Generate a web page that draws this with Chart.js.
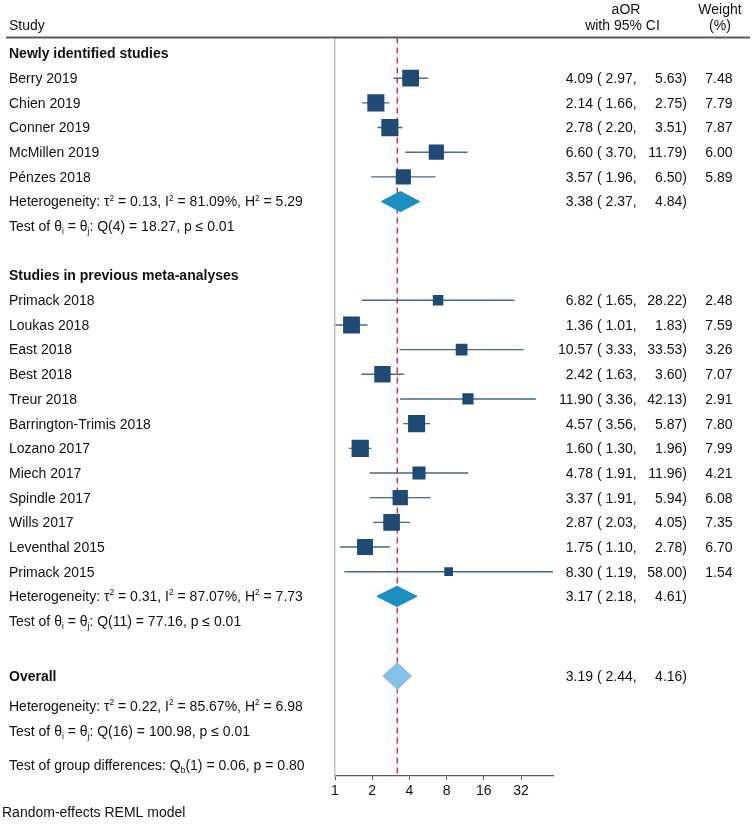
<!DOCTYPE html>
<html>
<head>
<meta charset="utf-8">
<title>Forest plot</title>
<script src="https://cdn.jsdelivr.net/npm/chart.js@4.4.0/dist/chart.umd.min.js"></script>
<style>
  body { margin: 0; background: #fff; }
  canvas { display: block; }
</style>
</head>
<body>
<canvas id="forestChart" width="752" height="824"></canvas>
<script>
// data
const groupNames = ["Newly identified studies", "Studies in previous meta-analyses"];
const studyNames = ["Berry 2019", "Chien 2019", "Conner 2019", "McMillen 2019", "Pénzes 2018",
    "Primack 2018", "Loukas 2018", "East 2018", "Best 2018", "Treur 2018", "Barrington-Trimis 2018",
    "Lozano 2017", "Miech 2017", "Spindle 2017", "Wills 2017", "Leventhal 2015", "Primack 2015"];
const studyGroup = [0, 0, 0, 0, 0, 1, 1, 1, 1, 1, 1, 1, 1, 1, 1, 1, 1];
const studyOR = [4.09, 2.14, 2.78, 6.60, 3.57, 6.82, 1.36, 10.57, 2.42, 11.90, 4.57, 1.60, 4.78, 3.37, 2.87, 1.75, 8.30];
const studyLow = [2.97, 1.66, 2.20, 3.70, 1.96, 1.65, 1.01, 3.33, 1.63, 3.36, 3.56, 1.30, 1.91, 1.91, 2.03, 1.10, 1.19];
const studyHigh = [5.63, 2.75, 3.51, 11.79, 6.50, 28.22, 1.83, 33.53, 3.60, 42.13, 5.87, 1.96, 11.96, 5.94, 4.05, 2.78, 58.00];
const studyWeight = [7.48, 7.79, 7.87, 6.00, 5.89, 2.48, 7.59, 3.26, 7.07, 2.91, 7.80, 7.99, 4.21, 6.08, 7.35, 6.70, 1.54];

const groupOR = [3.38, 3.17];
const groupLow = [2.37, 2.18];
const groupHigh = [4.84, 4.61];
const groupHet = ["Heterogeneity: τ^2 = 0.13, I^2 = 81.09%, H^2 = 5.29",
    "Heterogeneity: τ^2 = 0.31, I^2 = 87.07%, H^2 = 7.73"];
const groupTest = ["Test of θ_i = θ_j: Q(4) = 18.27, p ≤ 0.01",
    "Test of θ_i = θ_j: Q(11) = 77.16, p ≤ 0.01"];

const overallOR = 3.19;
const overallLow = 2.44;
const overallHigh = 4.16;
const overallHet = "Heterogeneity: τ^2 = 0.22, I^2 = 85.67%, H^2 = 6.98";
const overallTest = "Test of θ_i = θ_j: Q(16) = 100.98, p ≤ 0.01";
const groupDiffTest = "Test of group differences: Q_b(1) = 0.06, p = 0.80";
const modelNote = "Random-effects REML model";

const xTicks = [1, 2, 4, 8, 16, 32];
const xMin = 1;
const xMax = 58;

const FONT = '"Liberation Sans", Arial, sans-serif';
const FONT_SIZE = 14;
const yMin = -0.65;
const yMax = 29.28;

// work out which row every line of the table sits on
let textRows = [];
let studyRow = [];
let groupRow = [];
let row = 0;
groupNames.forEach((name, g) => {
    textRows.push({text: name, row: row, bold: true});
    studyNames.forEach((s, i) => {
        if (studyGroup[i] !== g) return;
        row++;
        studyRow[i] = row;
        textRows.push({text: s, row: row});
    });
    row++;
    groupRow[g] = row;
    textRows.push({text: groupHet[g], row: row});
    row++;
    textRows.push({text: groupTest[g], row: row});
    row += 2;
});
const overallRow = row + 0.23;
textRows.push({text: "Overall", row: overallRow, bold: true});
textRows.push({text: overallHet, row: overallRow + 1.22});
textRows.push({text: overallTest, row: overallRow + 2.25});
textRows.push({text: groupDiffTest, row: overallRow + 3.63});

function diamond(est, lo, hi, r, h){
    return [{x: lo, y: r}, {x: est, y: r - h}, {x: hi, y: r}, {x: est, y: r + h}, {x: lo, y: r}];
}

// text with ^x superscripts and _x subscripts
function drawRich(ctx, str, x, y, size, bold){
    const weight = bold ? "bold " : "";
    let i = 0;
    while (i < str.length){
        const ch = str[i];
        if ((ch === "^" || ch === "_") && i + 1 < str.length){
            const s = str[i + 1];
            ctx.font = weight + (size * 0.6) + "px " + FONT;
            const dy = ch === "^" ? -size * 0.3 : size * 0.3;
            ctx.fillText(s, x, y + dy);
            x += ctx.measureText(s).width;
            i += 2;
            continue;
        }
        let j = i;
        while (j < str.length && str[j] !== "^" && str[j] !== "_") j++;
        const run = str.slice(i, j);
        ctx.font = weight + size + "px " + FONT;
        ctx.fillText(run, x, y);
        x += ctx.measureText(run).width;
        i = j;
    }
}

function drawCI(ctx, est, lo, hi, py, weight){
    ctx.font = FONT_SIZE + "px " + FONT;
    ctx.textAlign = "right";
    ctx.fillText(est.toFixed(2), 593, py);
    ctx.textAlign = "left";
    ctx.fillText("( " + lo.toFixed(2) + ",", 597, py);
    ctx.textAlign = "right";
    ctx.fillText(hi.toFixed(2) + ")", 687, py);
    if (weight !== undefined)
        ctx.fillText(weight.toFixed(2), 732.5, py);
}

const textPlugin = {
    id: "forestText",
    afterDraw(chart){
        const ctx = chart.ctx;
        const yScale = chart.scales.y;
        ctx.save();
        ctx.fillStyle = "#111";
        ctx.textBaseline = "middle";

        // header
        ctx.font = FONT_SIZE + "px " + FONT;
        ctx.textAlign = "left";
        ctx.fillText("Study", 9, 26);
        ctx.textAlign = "center";
        ctx.fillText("aOR", 626, 10);
        ctx.fillText("with 95% CI", 622.5, 26);
        ctx.fillText("Weight", 720, 10);
        ctx.fillText("(%)", 720, 26);

        ctx.strokeStyle = "#5a5a5a";
        ctx.lineWidth = 2;
        ctx.beginPath();
        ctx.moveTo(6, chart.chartArea.top);
        ctx.lineTo(750, chart.chartArea.top);
        ctx.stroke();

        // left column
        ctx.textAlign = "left";
        textRows.forEach(t => {
            drawRich(ctx, t.text, 9, yScale.getPixelForValue(t.row) + 1, FONT_SIZE, t.bold);
        });

        // right columns
        studyNames.forEach((s, i) => {
            drawCI(ctx, studyOR[i], studyLow[i], studyHigh[i], yScale.getPixelForValue(studyRow[i]) + 1, studyWeight[i]);
        });
        groupNames.forEach((g, k) => {
            drawCI(ctx, groupOR[k], groupLow[k], groupHigh[k], yScale.getPixelForValue(groupRow[k]) + 1);
        });
        drawCI(ctx, overallOR, overallLow, overallHigh, yScale.getPixelForValue(overallRow) + 1);

        ctx.font = FONT_SIZE + "px " + FONT;
        ctx.textAlign = "left";
        ctx.fillText(modelNote, 2, 813);
        ctx.restore();
    }
};

let datasets = [];

// squares, size by weight
datasets.push({
    type: "scatter",
    data: studyOR.map((v, i) => ({x: v, y: studyRow[i]})),
    pointStyle: "rect",
    pointRadius: studyWeight.map(w => (2 + 5.4 * Math.sqrt(w)) / Math.SQRT2),
    backgroundColor: "#1f4a73",
    borderWidth: 0,
    order: 0
});

// confidence intervals
studyOR.forEach((v, i) => {
    datasets.push({
        type: "line",
        data: [{x: studyLow[i], y: studyRow[i]}, {x: studyHigh[i], y: studyRow[i]}],
        borderColor: "#45698f",
        borderWidth: 1.4,
        pointRadius: 0,
        fill: false,
        order: 2
    });
});

// subgroup and overall diamonds
groupOR.forEach((v, k) => {
    datasets.push({
        type: "line",
        data: diamond(v, groupLow[k], groupHigh[k], groupRow[k], 0.41),
        borderColor: "#1a8fc2",
        backgroundColor: "#1a8fc2",
        borderWidth: 1,
        pointRadius: 0,
        tension: 0,
        fill: "shape",
        order: 1
    });
});
datasets.push({
    type: "line",
    data: diamond(overallOR, overallLow, overallHigh, overallRow, 0.54),
    borderColor: "#85c1e9",
    backgroundColor: "#85c1e9",
    borderWidth: 1,
    pointRadius: 0,
    tension: 0,
    fill: "shape",
    order: 1
});

// dashed line at the overall estimate
datasets.push({
    type: "line",
    data: [{x: overallOR, y: yMin}, {x: overallOR, y: yMax}],
    borderColor: "#d7334f",
    borderWidth: 1.5,
    borderDash: [6, 4],
    pointRadius: 0,
    fill: false,
    order: 3
});

new Chart(document.getElementById("forestChart"), {
    type: "scatter",
    data: {datasets: datasets},
    options: {
        responsive: false,
        animation: false,
        devicePixelRatio: 1,
        layout: {padding: {left: 335, right: 199, top: 37.5, bottom: 0}},
        plugins: {legend: {display: false}, tooltip: {enabled: false}},
        scales: {
            x: {
                type: "logarithmic",
                position: "bottom",
                min: xMin,
                max: xMax,
                afterBuildTicks: s => { s.ticks = xTicks.map(v => ({value: v})); },
                afterFit: s => { s.height = 48; },
                ticks: {
                    callback: v => String(v),
                    autoSkip: false,
                    maxRotation: 0,
                    padding: 3,
                    color: "#111",
                    font: {family: FONT, size: FONT_SIZE}
                },
                grid: {drawOnChartArea: false, drawTicks: true, tickLength: 4, color: "#5a5a5a"},
                border: {display: true, color: "#5a5a5a", width: 1.3}
            },
            y: {
                type: "linear",
                reverse: true,
                min: yMin,
                max: yMax,
                afterFit: s => { s.width = 0; },
                ticks: {display: false},
                grid: {display: false},
                border: {display: true, color: "#c4c4c4", width: 1.5}
            }
        }
    },
    plugins: [textPlugin]
});
</script>
</body>
</html>
